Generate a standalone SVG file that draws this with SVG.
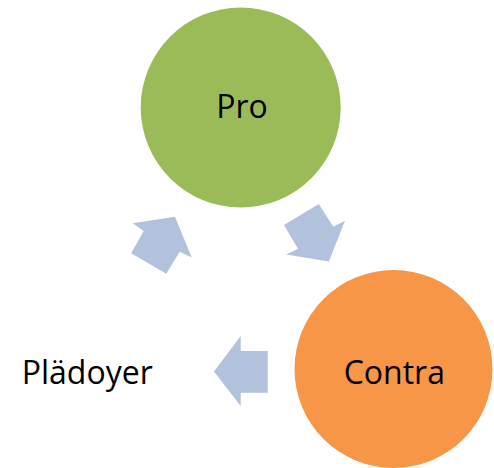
<svg xmlns="http://www.w3.org/2000/svg" width="494" height="468" viewBox="0 0 494 468">
<style>
.lbl{font-family:"Open Sans","Liberation Sans",sans-serif;font-size:32px;fill:#000;text-anchor:middle}
.arr{fill:#B2C1DC}
</style>
<rect width="494" height="468" fill="#fff"/>
<g id="connectors">
<polygon class="arr" points="132.7,223.3 175,216.7 191.7,257.5 179.7,251.7 166.3,273.7 131.2,253.3 143.7,231"/>
<polygon class="arr" points="318.8,204 333.3,226.7 345,220.7 328.8,261.5 286.2,254.5 298,248.8 284,225"/>
<polygon class="arr" points="214,371.5 240.7,336 240.7,351 267.7,351 267.7,392.7 240.7,392.7 240.7,406"/>
</g>
<g id="node-pro">
<circle cx="240.7" cy="107.5" r="100" fill="#9BBB59"/>
<text class="lbl" x="242" y="118">Pro</text>
</g>
<g id="node-contra">
<circle cx="393.5" cy="369" r="99" fill="#F79646"/>
<text class="lbl" x="394.3" y="384">Contra</text>
</g>
<g id="node-pladoyer">
<text class="lbl" x="87.2" y="384">Plädoyer</text>
</g>
</svg>
